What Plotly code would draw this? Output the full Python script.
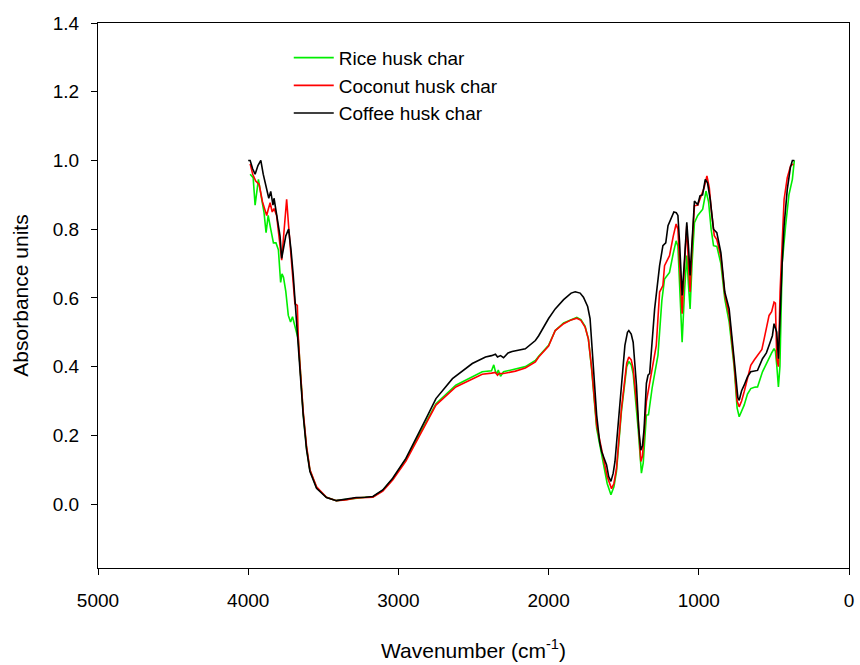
import plotly.graph_objects as go

# Coffee husk char (black)
coffee_wn = [4000, 3987, 3970, 3954, 3935, 3916, 3900, 3881, 3870, 3863, 3850, 3835, 3828, 3815, 3800,
             3788, 3777, 3765, 3750, 3731, 3715, 3700, 3678, 3667, 3656, 3634, 3612, 3589, 3545, 3479,
             3413, 3350, 3281, 3220, 3170, 3104, 3038, 2950, 2882, 2816, 2750, 2640, 2508, 2420, 2380,
             2354, 2340, 2320, 2300, 2270, 2243, 2155, 2088, 2066, 2000, 1956, 1900, 1850, 1823, 1790,
             1768, 1740, 1724, 1702, 1680, 1660, 1647, 1614, 1600, 1585, 1570, 1558, 1525, 1492, 1475,
             1466, 1450, 1437, 1415, 1400, 1386, 1375, 1364, 1349, 1338, 1327, 1294, 1261, 1239, 1220,
             1205, 1185, 1166, 1150, 1139, 1128, 1111, 1095, 1080, 1069, 1058, 1045, 1029, 1015, 1007,
             992, 975, 957, 942, 924, 902, 880, 853, 827, 798, 765, 740, 731, 715, 698,
             676, 654, 630, 609, 576, 550, 532, 510, 499, 490, 481, 470, 459, 445, 432,
             411, 390, 377, 364]
coffee_abs = [1.00, 1.00, 0.975, 0.96, 0.985, 1.00, 0.96, 0.925, 0.90, 0.89, 0.91, 0.87, 0.89, 0.85, 0.81,
              0.78, 0.715, 0.75, 0.78, 0.80, 0.74, 0.665, 0.52, 0.46, 0.40, 0.26, 0.16, 0.095, 0.046, 0.019,
              0.010, 0.014, 0.019, 0.020, 0.022, 0.041, 0.075, 0.133, 0.19, 0.249, 0.307, 0.365, 0.409, 0.428, 0.432,
              0.436, 0.428, 0.432, 0.426, 0.44, 0.444, 0.452, 0.476, 0.49, 0.54, 0.568, 0.595, 0.614, 0.618, 0.614,
              0.602, 0.575, 0.54, 0.394, 0.259, 0.18, 0.153, 0.114, 0.08, 0.066, 0.09, 0.124, 0.298, 0.462, 0.50,
              0.505, 0.495, 0.471, 0.346, 0.22, 0.157, 0.17, 0.22, 0.351, 0.375, 0.38, 0.568, 0.694, 0.752, 0.76,
              0.81, 0.83, 0.85, 0.848, 0.84, 0.762, 0.607, 0.713, 0.82, 0.752, 0.665, 0.762, 0.882, 0.875, 0.872,
              0.897, 0.90, 0.945, 0.935, 0.887, 0.80, 0.79, 0.732, 0.617, 0.568, 0.423, 0.31, 0.302, 0.33, 0.346,
              0.37, 0.385, 0.388, 0.389, 0.423, 0.44, 0.462, 0.49, 0.525, 0.515, 0.50, 0.423, 0.568, 0.70, 0.81,
              0.916, 0.98, 1.00, 1.00]

# Coconut husk char (red)
coconut_wn = [3987, 3970, 3950, 3927, 3905, 3890, 3877, 3865, 3854, 3840, 3828, 3811, 3793, 3777, 3766,
              3755, 3744, 3731, 3718, 3700, 3689, 3673, 3667, 3656, 3634, 3612, 3589, 3545, 3479, 3413,
              3350, 3281, 3220, 3170, 3104, 3038, 2950, 2882, 2816, 2750, 2618, 2442, 2380, 2354, 2340,
              2330, 2300, 2221, 2155, 2088, 2066, 2000, 1956, 1900, 1850, 1812, 1785, 1757, 1735, 1713,
              1680, 1636, 1610, 1581, 1565, 1548, 1515, 1480, 1466, 1450, 1437, 1404, 1386, 1375, 1364,
              1349, 1320, 1283, 1261, 1239, 1228, 1195, 1170, 1151, 1139, 1128, 1111, 1095, 1080, 1069,
              1058, 1045, 1029, 1007, 985, 965, 946, 930, 918, 897, 880, 853, 827, 798, 765,
              745, 731, 715, 698, 676, 654, 630, 609, 580, 565, 545, 532, 515, 499, 490,
              481, 470, 459, 445, 432, 411, 389, 370]
coconut_abs = [0.99, 0.96, 0.94, 0.93, 0.88, 0.86, 0.84, 0.86, 0.877, 0.85, 0.86, 0.84, 0.77, 0.71, 0.77,
               0.84, 0.887, 0.81, 0.74, 0.645, 0.583, 0.578, 0.49, 0.41, 0.27, 0.17, 0.10, 0.05, 0.02, 0.010,
               0.012, 0.018, 0.020, 0.020, 0.038, 0.07, 0.125, 0.18, 0.235, 0.288, 0.341, 0.378, 0.381, 0.383, 0.375,
               0.38, 0.38, 0.387, 0.396, 0.414, 0.428, 0.46, 0.505, 0.525, 0.536, 0.541, 0.535, 0.515, 0.48, 0.394,
               0.23, 0.133, 0.08, 0.045, 0.06, 0.104, 0.278, 0.41, 0.428, 0.42, 0.394, 0.249, 0.124, 0.14, 0.20,
               0.298, 0.37, 0.462, 0.617, 0.636, 0.694, 0.723, 0.78, 0.815, 0.80, 0.70, 0.554, 0.70, 0.81, 0.70,
               0.617, 0.75, 0.868, 0.87, 0.897, 0.92, 0.955, 0.92, 0.86, 0.781, 0.77, 0.72, 0.61, 0.55, 0.41,
               0.30, 0.283, 0.30, 0.327, 0.37, 0.404, 0.42, 0.433, 0.45, 0.481, 0.52, 0.549, 0.56, 0.588, 0.585,
               0.423, 0.40, 0.617, 0.76, 0.887, 0.95, 0.984, 0.99]

# Rice husk char (green)
rice_wn = [3987, 3967, 3954, 3932, 3910, 3895, 3881, 3867, 3850, 3832, 3815, 3799, 3784, 3775, 3765,
           3750, 3733, 3718, 3705, 3689, 3667, 3656, 3634, 3612, 3589, 3545, 3479, 3413, 3350, 3281,
           3220, 3170, 3104, 3038, 2950, 2882, 2816, 2750, 2618, 2442, 2380, 2365, 2354, 2345, 2335,
           2320, 2300, 2221, 2155, 2088, 2066, 2000, 1956, 1900, 1850, 1812, 1785, 1757, 1735, 1713,
           1680, 1636, 1610, 1585, 1565, 1548, 1515, 1480, 1466, 1450, 1437, 1404, 1382, 1370, 1364,
           1349, 1335, 1327, 1310, 1272, 1246, 1228, 1195, 1170, 1151, 1139, 1128, 1111, 1095, 1080,
           1069, 1058, 1045, 1029, 1007, 974, 952, 935, 918, 902, 880, 853, 827, 798, 765,
           745, 731, 715, 698, 676, 654, 630, 609, 576, 550, 532, 515, 499, 490, 481,
           470, 460, 445, 422, 400, 377, 364]
rice_abs = [0.96, 0.95, 0.87, 0.945, 0.887, 0.85, 0.79, 0.84, 0.80, 0.76, 0.76, 0.74, 0.645, 0.67, 0.66,
            0.62, 0.549, 0.53, 0.545, 0.52, 0.48, 0.41, 0.265, 0.165, 0.098, 0.048, 0.02, 0.010, 0.013, 0.018,
            0.020, 0.021, 0.04, 0.073, 0.13, 0.185, 0.24, 0.292, 0.346, 0.385, 0.388, 0.405, 0.386, 0.378, 0.39,
            0.372, 0.385, 0.392, 0.40, 0.418, 0.43, 0.462, 0.505, 0.527, 0.537, 0.543, 0.537, 0.517, 0.48, 0.39,
            0.22, 0.12, 0.06, 0.027, 0.05, 0.095, 0.27, 0.40, 0.415, 0.405, 0.38, 0.22, 0.09, 0.12, 0.17,
            0.259, 0.26, 0.29, 0.34, 0.433, 0.592, 0.655, 0.674, 0.73, 0.766, 0.75, 0.64, 0.471, 0.62, 0.723,
            0.64, 0.568, 0.70, 0.819, 0.84, 0.858, 0.911, 0.88, 0.80, 0.752, 0.75, 0.70, 0.597, 0.53, 0.40,
            0.28, 0.254, 0.27, 0.288, 0.32, 0.336, 0.34, 0.341, 0.385, 0.41, 0.423, 0.44, 0.452, 0.445, 0.404,
            0.341, 0.40, 0.70, 0.81, 0.90, 0.945, 1.00]

x_ticks = [5000, 4000, 3000, 2000, 1000, 0]
y_ticks = [0.0, 0.2, 0.4, 0.6, 0.8, 1.0, 1.2, 1.4]

FONT = "Liberation Sans, Arial, sans-serif"

fig = go.Figure()
fig.add_trace(go.Scatter(x=rice_wn, y=rice_abs, mode="lines", name="Rice husk char",
                         line=dict(color="#00ee00", width=1.6)))
fig.add_trace(go.Scatter(x=coconut_wn, y=coconut_abs, mode="lines", name="Coconut husk char",
                         line=dict(color="#ff0000", width=1.6)))
fig.add_trace(go.Scatter(x=coffee_wn, y=coffee_abs, mode="lines", name="Coffee husk char",
                         line=dict(color="#000000", width=1.6)))

fig.update_layout(
    width=860, height=665,
    margin=dict(l=98, r=6, t=23, b=97),
    paper_bgcolor="white", plot_bgcolor="white",
    font=dict(family=FONT, size=19, color="#000000"),
    showlegend=True,
    legend=dict(x=0.254, y=0.971, xanchor="left", yanchor="top",
                bgcolor="rgba(0,0,0,0)", font=dict(size=19, family=FONT),
                itemwidth=40, tracegroupgap=0),
    xaxis=dict(range=[5000, 0], tickvals=x_ticks, ticktext=[str(v) for v in x_ticks],
               showline=True, mirror=True, linecolor="black", linewidth=1.3, ticks="outside",
               ticklen=6, tickcolor="black", tickwidth=1.2, ticklabelstandoff=9,
               showgrid=False, zeroline=False,
               title=dict(text="Wavenumber (cm<sup>-1</sup>)", standoff=33,
                          font=dict(size=21, family=FONT))),
    yaxis=dict(range=[-0.186, 1.4], tickvals=y_ticks, ticktext=[f"{v:.1f}" for v in y_ticks],
               showline=True, mirror=True, linecolor="black", linewidth=1.3, ticks="outside",
               ticklen=6, tickcolor="black", tickwidth=1.2, ticklabelstandoff=8,
               showgrid=False, zeroline=False,
               title=dict(text="Absorbance units", standoff=18,
                          font=dict(size=21, family=FONT))),
)

fig.write_html("out.html")
